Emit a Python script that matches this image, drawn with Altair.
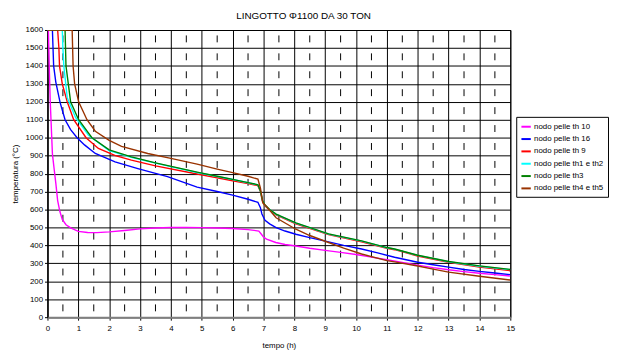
import altair as alt
import pandas as pd

# ---- data ----
names = ["nodo pelle th 10", "nodo pelle th 16", "nodo pelle th 9",
         "nodo pelle th1 e th2", "nodo pelle th3", "nodo pelle th4 e th5"]
colors = ["#FF00FF", "#0000FF", "#FF0000", "#00FFFF", "#008000", "#993300"]

t_th10 = [0, 0.03, 0.06, 0.09, 0.16, 0.22, 0.27, 0.33, 0.4, 0.48, 0.6, 0.75, 1.0, 1.3, 1.6, 2.0, 2.5, 3.0, 3.5,
          4.0, 4.5, 5.0, 5.5, 6.0, 6.5, 6.85, 6.92, 7.0, 7.1, 7.4, 7.7, 8.0, 8.5, 9.0, 9.5, 10.0, 10.5, 11.0,
          11.5, 12.0, 12.5, 13.0, 13.5, 14.0, 14.5, 15.0]
T_th10 = [1600, 1600, 1380, 1200, 910, 820, 747, 650, 590, 545, 515, 498, 478, 472, 471, 475, 483, 492, 497,
          500, 500, 499, 497, 494, 488, 480, 465, 447, 435, 416, 405, 398, 384, 372, 361, 349, 335, 320,
          305, 290, 276, 264, 254, 245, 237, 229]

t_th16 = [0, 0.16, 0.18, 0.2, 0.27, 0.41, 0.57, 0.75, 0.96, 1.2, 1.55, 2.19, 2.93, 3.89, 4.85, 5.5, 6.0, 6.5,
          6.82, 6.9, 6.95, 7.05, 7.2, 7.41, 7.7, 8.05, 8.5, 9.11, 9.6, 10.18, 10.7, 11.25, 12.0, 12.5, 13.0,
          13.5, 14.0, 14.5, 15.0]
T_th16 = [1600, 1600, 1500, 1400, 1310, 1195, 1100, 1045, 1000, 960, 912, 865, 828, 783, 725, 700, 680, 657,
          640, 610, 575, 540, 520, 499, 480, 462, 443, 420, 400, 380, 358, 334, 306, 292, 279,
          266, 255, 246, 237]

t_th9 = [0, 0.33, 0.37, 0.39, 0.48, 0.64, 0.85, 1.25, 1.65, 2.2, 2.72, 3.5, 4.85, 5.5, 6.0, 6.5, 6.82, 6.9,
         6.97, 7.04, 7.2, 7.41, 8.05, 9.11, 10.18, 11.0, 11.25, 12.0, 13.0, 14.0, 15.0]
T_th9 = [1600, 1600, 1500, 1400, 1300, 1200, 1100, 1000, 940, 900, 875, 843, 798, 777, 760, 744, 733, 700,
         645, 622, 596, 570, 520, 460, 420, 384, 376, 341, 305, 279, 259]

t_th1e2 = [0, 0.48, 0.5, 0.53, 0.64, 0.91, 1.33, 2.0, 2.72, 3.5, 4.85, 5.5, 6.0, 6.5, 6.82, 6.9, 6.97, 7.04,
           7.2, 7.41, 8.05, 9.11, 10.18, 11.0, 11.25, 12.0, 13.0, 14.0, 15.0]
T_th1e2 = [1600, 1600, 1500, 1400, 1223, 1113, 1013, 928, 891, 858, 806, 784, 767, 749, 737, 704, 649, 626,
           599, 573, 524, 463, 424, 387, 379, 344, 309, 284, 265]

t_th3 = [0, 0.57, 0.6, 0.75, 1.01, 1.44, 2.0, 2.72, 3.5, 4.85, 5.5, 6.0, 6.5, 6.82, 6.9, 6.97, 7.04, 7.2, 7.41,
         8.05, 9.11, 10.18, 11.0, 11.25, 12.0, 13.0, 14.0, 15.0]
T_th3 = [1600, 1600, 1400, 1200, 1100, 1000, 932, 893, 860, 808, 785, 768, 750, 738, 705, 650, 627, 600, 574,
         525, 464, 425, 388, 380, 345, 310, 286, 266]

t_th4e5 = [0, 0.8, 0.83, 0.88, 1.01, 1.28, 1.55, 2.0, 2.4, 3.25, 4.0, 4.85, 5.5, 6.0, 6.5, 6.82, 6.9, 6.98,
           7.09, 7.41, 8.05, 8.5, 9.11, 9.6, 10.18, 11.0, 11.25, 12.0, 12.5, 13.0, 14.0, 15.0]
T_th4e5 = [1600, 1600, 1400, 1300, 1200, 1100, 1036, 985, 952, 912, 885, 853, 825, 805, 785, 769, 720, 637,
           618, 554, 490, 455, 416, 385, 352, 315, 308, 285, 268, 251, 228, 207]

y_ticks = [0, 100, 200, 300, 400, 500, 600, 700, 800, 900, 1000, 1100, 1200, 1300, 1400, 1500, 1600]
x_ticks = [0, 1, 2, 3, 4, 5, 6, 7, 8, 9, 10, 11, 12, 13, 14, 15]
half_hours = [0.5, 1.5, 2.5, 3.5, 4.5, 5.5, 6.5, 7.5, 8.5, 9.5, 10.5, 11.5, 12.5, 13.5, 14.5]

series = [(names[0], t_th10, T_th10), (names[1], t_th16, T_th16), (names[2], t_th9, T_th9),
          (names[3], t_th1e2, T_th1e2), (names[4], t_th3, T_th3), (names[5], t_th4e5, T_th4e5)]
rows = []
for n, ts, Ts in series:
    for i, (a, b) in enumerate(zip(ts, Ts)):
        rows.append({"serie": n, "t": a, "T": b, "i": i})
df = pd.DataFrame(rows)

W, H = 469, 291
FONT = "Liberation Sans"

xs = alt.Scale(domain=[0, 15], nice=False, zero=False)
ys = alt.Scale(domain=[0, 1600], nice=False)

x_axis = alt.Axis(values=x_ticks, format="d", labelOverlap=False, labelFlush=False,
                  grid=True, gridColor="#000000", gridWidth=1,
                  tickSize=3, tickColor="#000", labelFontSize=8, labelFont=FONT,
                  labelPadding=5, titleFont=FONT, titleFontSize=8, titleFontWeight="normal",
                  titlePadding=9, domainColor="#808080", domainWidth=2, labelColor="#000",
                  titleColor="#000")
y_axis = alt.Axis(values=y_ticks, format="d", labelOverlap=False, labelFlush=False,
                  grid=True, gridColor="#000000", gridWidth=1,
                  tickSize=3, tickColor="#000", labelFontSize=8, labelFont=FONT,
                  labelPadding=2, titleFont=FONT, titleFontSize=8, titleFontWeight="normal",
                  titlePadding=6, domainColor="#000", labelColor="#000", titleColor="#000")

minor = alt.Chart(pd.DataFrame({"t": half_hours})).mark_rule(
    color="#000000", strokeWidth=1, strokeDash=[7, 11.17], strokeDashOffset=12.67
).encode(
    x=alt.X("t:Q", scale=xs, title="tempo (h)", axis=x_axis),
    y=alt.value(0),
    y2=alt.value(H),
)

lines = alt.Chart(df).mark_line(strokeWidth=1.4, clip=True).encode(
    x=alt.X("t:Q", scale=xs, title="tempo (h)", axis=x_axis),
    y=alt.Y("T:Q", scale=ys, title="temperatura (°C)", axis=y_axis),
    color=alt.Color("serie:N", scale=alt.Scale(domain=names, range=colors),
                    legend=alt.Legend(title=None, orient="none", legendX=475, legendY=88,
                                      strokeColor="#000", fillColor="#fff", padding=4,
                                      symbolType="stroke", symbolSize=90, symbolStrokeWidth=2,
                                      labelFont=FONT, labelFontSize=8, labelColor="#000",
                                      labelLimit=120, rowPadding=2.5, labelOffset=2)),
    order="i:Q",
)

chart = alt.layer(minor, lines).properties(
    width=W, height=H,
    title=alt.TitleParams("LINGOTTO Φ1100 DA 30 TON", font=FONT, fontSize=10, fontWeight="normal",
                          color="#000", anchor="middle", dx=25, offset=5),
    autosize=alt.AutoSizeParams(type="none"),
    padding={"left": 40, "top": 20, "right": 100, "bottom": 35},
).configure_view(stroke="#000", strokeWidth=1)

chart.save("out.html", embed_options={"renderer": "svg", "actions": False})
